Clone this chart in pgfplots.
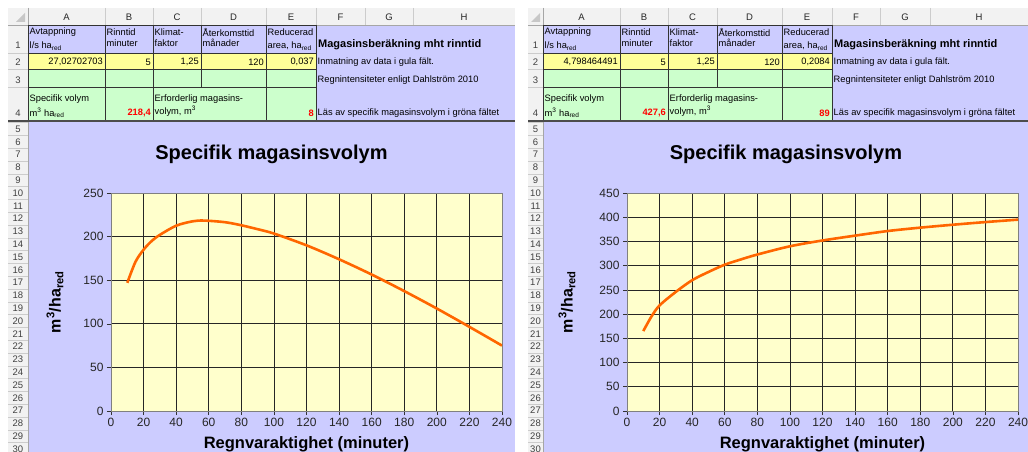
\documentclass[border=0pt]{standalone}
\usepackage{fontspec}
\setmainfont{Liberation Sans}
\usepackage{pgfplots}
\pgfplotsset{compat=1.18}
\definecolor{lav}{HTML}{CCCCFF}
\definecolor{yel}{HTML}{FFFF99}
\definecolor{grn}{HTML}{CCFFCC}
\definecolor{plotbg}{HTML}{FFFFCC}
\definecolor{hdr}{HTML}{F2F2F2}
\definecolor{orng}{HTML}{FF6600}
\definecolor{redt}{HTML}{FF0000}
\tikzset{cell/.style={inner sep=0pt, font=\fontsize{9.3}{11}\selectfont},
  rn/.style={inner sep=0pt, font=\fontsize{9.5}{10}\selectfont, text=black!75}}
\pgfplotsset{xlsaxis/.style={scale only axis, width=391pt, height=218pt,
  anchor=south west, xmin=0, xmax=240, ymin=0,
  xtick distance=20, ytick distance=50, tick pos=left,
  grid=major, major grid style={black!85, line width=0.75pt},
  axis line style={black!50, line width=0.75pt},
  axis background/.style={fill=plotbg},
  tick align=outside, major tick length=4pt, tick style={black!80, line width=0.6pt},
  ticklabel style={font=\fontsize{12}{13}\selectfont, text=black!85},
  /pgf/number format/assume math mode=true,
  title style={font=\bfseries\fontsize{20}{22}\selectfont, anchor=center},
  xlabel style={font=\bfseries\fontsize{16.5}{18}\selectfont, anchor=center, at={(axis description cs:0.5,-0.151)}},
  ylabel style={font=\bfseries\fontsize{16}{18}\selectfont, anchor=center},
  xlabel={Regnvaraktighet (minuter)}, ylabel={m\textsuperscript{3}/ha\textsubscript{red}},
  title={Specifik magasinsvolym}}}
\newcommand\drawsheet{%
 \fill[hdr] (\xL,-8) rectangle (\xR,-25);
 \fill[hdr] (\xL,-25) rectangle (\xA,-452);
 \fill[lav] (\xA,-25) rectangle (\xF,-53);
 \fill[yel] (\xA,-53) rectangle (\xF,-69);
 \fill[grn] (\xA,-69) rectangle (\xF,-121);
 \fill[lav] (\xF,-25) rectangle (\xR,-121);
 \fill[lav] (\xA,-121) rectangle (\xR,-452);
 \foreach \c in {\xA,\xB,\xC,\xD,\xE,\xF,\xG,\xH}{\draw[black!20] (\c,-8) -- (\c,-25);}
 \draw[black!35] (\xL,-25) -- (\xR,-25);
 \foreach \yy in {53,69,87}{\draw[black!20] (\xL,-\yy) -- (\xA,-\yy);}
 \foreach \r in {0,...,26}{\draw[black!20] (\xL,{-122.6-\r*12.8}) -- (\xA,{-122.6-\r*12.8});}
 \draw[black!35] (\xA,-8) -- (\xA,-452);
 \draw[black!80, line width=0.8pt] (\xA,-25) -- (\xF,-25) (\xA,-53) -- (\xF,-53) (\xA,-69) -- (\xF,-69) (\xA,-87) -- (\xF,-87);
 \draw[black!80, line width=0.8pt] (\xA,-25) -- (\xA,-121) (\xB,-25) -- (\xB,-121) (\xC,-25) -- (\xC,-121) (\xD,-25) -- (\xD,-87) (\xE,-25) -- (\xE,-121) (\xF,-25) -- (\xF,-121);
 \draw[black!70, line width=1.6pt] (\xL,-121) -- (\xR,-121);
 \fill[black!22] (\xA-3,-22) -- (\xA-3,-13) -- (\xA-12,-22) -- cycle;
 \node[rn, text=black!85, font=\fontsize{9.5}{10}\selectfont] at ({(\xA+\xB)/2},-17) {A};
 \node[rn, text=black!85, font=\fontsize{9.5}{10}\selectfont] at ({(\xB+\xC)/2},-17) {B};
 \node[rn, text=black!85, font=\fontsize{9.5}{10}\selectfont] at ({(\xC+\xD)/2},-17) {C};
 \node[rn, text=black!85, font=\fontsize{9.5}{10}\selectfont] at ({(\xD+\xE)/2},-17) {D};
 \node[rn, text=black!85, font=\fontsize{9.5}{10}\selectfont] at ({(\xE+\xF)/2},-17) {E};
 \node[rn, text=black!85, font=\fontsize{9.5}{10}\selectfont] at ({(\xF+\xG)/2},-17) {F};
 \node[rn, text=black!85, font=\fontsize{9.5}{10}\selectfont] at ({(\xG+\xH)/2},-17) {G};
 \node[rn, text=black!85, font=\fontsize{9.5}{10}\selectfont] at ({(\xH+\xR)/2},-17) {H};
 \node[rn] at ({(\xL+\xA)/2},-45) {1};
 \node[rn] at ({(\xL+\xA)/2},-62) {2};
 \node[rn] at ({(\xL+\xA)/2},-80) {3};
 \node[rn] at ({(\xL+\xA)/2},-113) {4};
 \foreach \r in {5,...,30}{\node[rn] at ({(\xL+\xA)/2},{-129-(\r-5)*12.8}) {\r};}
 \node[cell, anchor=west] at (\xA+1.5,-32) {Avtappning};
 \node[cell, anchor=west] at (\xA+1.5,-46) {l/s ha\textsubscript{red}};
 \node[cell, anchor=west] at (\xB+1.5,-32) {Rinntid};
 \node[cell, anchor=west] at (\xB+1.5,-43) {minuter};
 \node[cell, anchor=west] at (\xC+1.5,-32) {Klimat-};
 \node[cell, anchor=west] at (\xC+1.5,-43) {faktor};
 \node[cell, anchor=west] at (\xD+1.5,-32) {Återkomsttid};
 \node[cell, anchor=west] at (\xD+1.5,-43) {månader};
 \node[cell, anchor=west] at (\xE+1.5,-32) {Reducerad};
 \node[cell, anchor=west] at (\xE+1.5,-46) {area, ha\textsubscript{red}};
 \node[cell, anchor=west, font=\bfseries\fontsize{11}{12}\selectfont] at (\xF+2,-45) {Magasinsberäkning mht rinntid};
 \node[cell, anchor=east] at (\xB-2,-62) {\vA};
 \node[cell, anchor=east] at (\xC-2,-62) {5};
 \node[cell, anchor=east] at (\xD-2,-62) {1,25};
 \node[cell, anchor=east] at (\xE-2,-62) {120};
 \node[cell, anchor=east] at (\xF-2,-62) {\vE};
 \node[cell, anchor=west] at (\xF+1.5,-62) {Inmatning av data i gula fält.};
 \node[cell, anchor=west] at (\xF+1.5,-80) {Regnintensiteter enligt Dahlström 2010};
 \node[cell, anchor=west] at (\xA+1.5,-99) {Specifik volym};
 \node[cell, anchor=west] at (\xA+1.5,-113) {m\textsuperscript{3} ha\textsubscript{red}};
 \node[cell, anchor=east, text=redt, font=\bfseries\fontsize{9.3}{11}\selectfont] at (\xC-2,-113) {\vB};
 \node[cell, anchor=west] at (\xC+1.5,-99) {Erforderlig magasins-};
 \node[cell, anchor=west] at (\xC+1.5,-111) {volym, m\textsuperscript{3}};
 \node[cell, anchor=east, text=redt, font=\bfseries\fontsize{9.3}{11}\selectfont] at (\xF-2,-113) {\vF};
 \node[cell, anchor=west] at (\xF+1.5,-113) {Läs av specifik magasinsvolym i gröna fältet};
}
\begin{document}
\begin{tikzpicture}[x=1pt,y=1pt]
\useasboundingbox (0,0) rectangle (1028,-452);
\clip (0,0) rectangle (1028,-452);
\fill[white] (0,0) rectangle (1028,-452);
% left sheet
\def\xL{8}\def\xA{28}\def\xB{105}\def\xC{153}\def\xD{201}\def\xE{266}\def\xF{316}\def\xG{365}\def\xH{413}\def\xR{515}
\def\vA{27,02702703}\def\vE{0,037}\def\vB{218,4}\def\vF{8}
\drawsheet
% right sheet
\def\xL{528}\def\xA{543}\def\xB{620}\def\xC{668}\def\xD{717}\def\xE{782}\def\xF{832}\def\xG{880}\def\xH{930}\def\xR{1028}
\def\vA{4,798464491}\def\vE{0,2084}\def\vB{427,6}\def\vF{89}
\drawsheet
\begin{axis}[xlsaxis, at={(111pt,-411pt)}, ymax=250,
  title style={at={(axis description cs:0.4105,1.15)}},
  ylabel style={at={(axis description cs:-0.1432,0.5)}}]
\addplot[orng, line width=2.6pt, smooth, no marks] coordinates {
(10,147) (15,171) (20,185) (25,195) (30,202) (40,212.5) (50,217.5) (57,218.4)
(70,216.5) (80,213) (90,208.5) (100,203.5) (120,190) (140,174) (160,156.5)
(180,137.5) (200,117.5) (220,96.5) (240,75)};
\end{axis}
\begin{axis}[xlsaxis, at={(627pt,-411pt)}, ymax=450,
  title style={at={(axis description cs:0.4066,1.15)}},
  ylabel style={at={(axis description cs:-0.1535,0.5)}}]
\addplot[orng, line width=2.6pt, smooth, no marks] coordinates {
(10,165) (15,195) (20,218) (30,246) (40,270) (50,287) (60,302) (70,313)
(80,323) (100,340) (120,352) (140,362) (160,371.5) (180,378.5) (200,384.5)
(220,390) (240,395)};
\end{axis}
\end{tikzpicture}
\end{document}
